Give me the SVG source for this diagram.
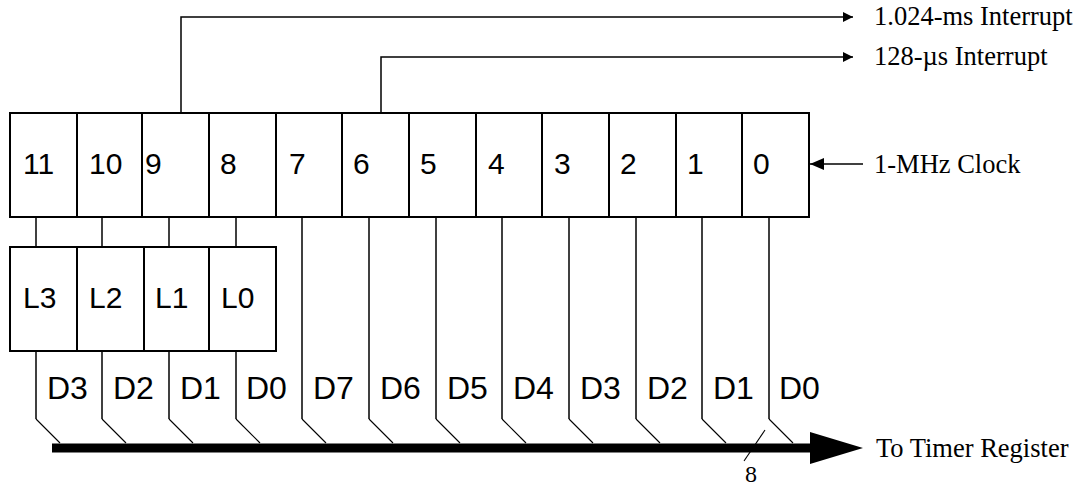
<svg xmlns="http://www.w3.org/2000/svg" width="1079" height="488" viewBox="0 0 1079 488">
<style>
.box{fill:#fff;stroke:#000;stroke-width:2}
.ln{fill:none;stroke:#000;stroke-width:1.5}
.dg{fill:none;stroke:#000;stroke-width:1.1}
.sans{font-family:"Liberation Sans",Arial,sans-serif;fill:#000}
.rg{font-size:30px}
.dl{font-size:32px}
.serif{font-family:"Liberation Serif","Times New Roman",serif;font-size:26.5px;fill:#000}
</style>
<defs>
<marker id="ah" viewBox="0 0 10 10" refX="10" refY="5" markerWidth="10" markerHeight="10" markerUnits="userSpaceOnUse" orient="auto"><path d="M0,0 L10,5 L0,10 z" fill="#000"/></marker>
<marker id="ah2" viewBox="0 0 14 12" refX="14" refY="6" markerWidth="14" markerHeight="12" markerUnits="userSpaceOnUse" orient="auto"><path d="M0,0 L14,6 L0,12 z" fill="#000"/></marker>
</defs>
<rect width="1079" height="488" fill="#fff"/>
<g id="connectors">
<polyline class="ln" points="181,113 181,17 853,17" marker-end="url(#ah)"/>
<polyline class="ln" points="381,113 381,57 853,57" marker-end="url(#ah)"/>
<line class="ln" x1="863" y1="164" x2="810" y2="164" marker-end="url(#ah2)"/>
<line class="ln" x1="36" y1="217" x2="36" y2="247"/>
<line class="ln" x1="102" y1="217" x2="102" y2="247"/>
<line class="ln" x1="169" y1="217" x2="169" y2="247"/>
<line class="ln" x1="236" y1="217" x2="236" y2="247"/>
<polyline class="ln" points="36,351 36,419"/><line class="dg" x1="36" y1="419" x2="60" y2="443"/>
<polyline class="ln" points="102,351 102,419"/><line class="dg" x1="102" y1="419" x2="126" y2="443"/>
<polyline class="ln" points="169,351 169,419"/><line class="dg" x1="169" y1="419" x2="193" y2="443"/>
<polyline class="ln" points="236,351 236,419"/><line class="dg" x1="236" y1="419" x2="260" y2="443"/>
<polyline class="ln" points="302,217 302,419"/><line class="dg" x1="302" y1="419" x2="326" y2="443"/>
<polyline class="ln" points="369,217 369,419"/><line class="dg" x1="369" y1="419" x2="393" y2="443"/>
<polyline class="ln" points="436,217 436,419"/><line class="dg" x1="436" y1="419" x2="460" y2="443"/>
<polyline class="ln" points="502,217 502,419"/><line class="dg" x1="502" y1="419" x2="526" y2="443"/>
<polyline class="ln" points="569,217 569,419"/><line class="dg" x1="569" y1="419" x2="593" y2="443"/>
<polyline class="ln" points="636,217 636,419"/><line class="dg" x1="636" y1="419" x2="660" y2="443"/>
<polyline class="ln" points="702,217 702,419"/><line class="dg" x1="702" y1="419" x2="726" y2="443"/>
<polyline class="ln" points="769,217 769,419"/><line class="dg" x1="769" y1="419" x2="793" y2="443"/>
<line x1="52" y1="448" x2="812" y2="448" stroke="#000" stroke-width="9"/>
<path d="M810,432 L863,448 L810,464 z" fill="#000"/>
<line class="dg" x1="765" y1="430" x2="744" y2="461"/>
</g>
<g id="register">
<g id="bit11"><rect class="box" x="10" y="113" width="67" height="104"/><text class="sans rg" x="23" y="174">11</text></g>
<g id="bit10"><rect class="box" x="77" y="113" width="65" height="104"/><text class="sans rg" x="89" y="174">10</text></g>
<g id="bit9"><rect class="box" x="142" y="113" width="67" height="104"/><text class="sans rg" x="145" y="174">9</text></g>
<g id="bit8"><rect class="box" x="209" y="113" width="67" height="104"/><text class="sans rg" x="220" y="174">8</text></g>
<g id="bit7"><rect class="box" x="276" y="113" width="66" height="104"/><text class="sans rg" x="289" y="174">7</text></g>
<g id="bit6"><rect class="box" x="342" y="113" width="67" height="104"/><text class="sans rg" x="353" y="174">6</text></g>
<g id="bit5"><rect class="box" x="409" y="113" width="67" height="104"/><text class="sans rg" x="420" y="174">5</text></g>
<g id="bit4"><rect class="box" x="476" y="113" width="66" height="104"/><text class="sans rg" x="488" y="174">4</text></g>
<g id="bit3"><rect class="box" x="542" y="113" width="67" height="104"/><text class="sans rg" x="554" y="174">3</text></g>
<g id="bit2"><rect class="box" x="609" y="113" width="67" height="104"/><text class="sans rg" x="620" y="174">2</text></g>
<g id="bit1"><rect class="box" x="676" y="113" width="66" height="104"/><text class="sans rg" x="687" y="174">1</text></g>
<g id="bit0"><rect class="box" x="742" y="113" width="67" height="104"/><text class="sans rg" x="753" y="174">0</text></g>
</g>
<g id="latch">
<g id="L3"><rect class="box" x="10" y="247" width="67" height="104"/><text class="sans rg" x="23" y="308">L3</text></g>
<g id="L2"><rect class="box" x="77" y="247" width="67" height="104"/><text class="sans rg" x="89" y="308">L2</text></g>
<g id="L1"><rect class="box" x="144" y="247" width="65" height="104"/><text class="sans rg" x="155" y="308">L1</text></g>
<g id="L0"><rect class="box" x="209" y="247" width="67" height="104"/><text class="sans rg" x="221" y="308">L0</text></g>
</g>
<g id="data-labels">
<text class="sans dl" x="47" y="399">D3</text>
<text class="sans dl" x="113" y="399">D2</text>
<text class="sans dl" x="180" y="399">D1</text>
<text class="sans dl" x="246" y="399">D0</text>
<text class="sans dl" x="313" y="399">D7</text>
<text class="sans dl" x="380" y="399">D6</text>
<text class="sans dl" x="447" y="399">D5</text>
<text class="sans dl" x="513" y="399">D4</text>
<text class="sans dl" x="580" y="399">D3</text>
<text class="sans dl" x="647" y="399">D2</text>
<text class="sans dl" x="713" y="399">D1</text>
<text class="sans dl" x="779" y="399">D0</text>
</g>
<g id="labels">
<text class="serif" x="874" y="25">1.024-ms Interrupt</text>
<text class="serif" x="874" y="65">128-µs Interrupt</text>
<text class="serif" x="874" y="173">1-MHz Clock</text>
<text class="serif" x="876" y="457">To Timer Register</text>
<text class="serif" x="751" y="482" text-anchor="middle" style="font-size:24px">8</text>
</g>
</svg>
